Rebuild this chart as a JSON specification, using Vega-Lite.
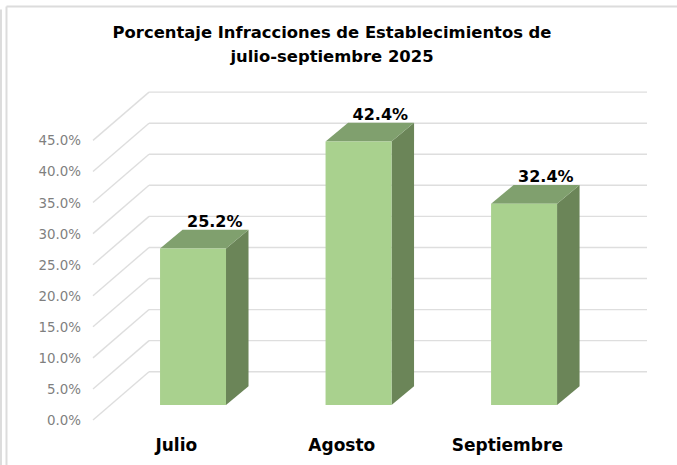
{
  "$schema": "https://vega.github.io/schema/vega-lite/v6.json",
  "width": 554,
  "height": 340,
  "autosize": "none",
  "padding": {"left": 93, "top": 80, "right": 30, "bottom": 45},
  "background": "white",
  "config": {"view": {"stroke": null}, "font": "DejaVu Sans"},
  "title": {"text": ["Porcentaje Infracciones de Establecimientos de", "julio-septiembre 2025"], "anchor": "middle", "frame": "group", "dx": -38, "offset": -59.5, "fontSize": 16.4, "fontWeight": "bold", "color": "black", "lineHeight": 24, "font": "DejaVu Sans"},
  "datasets": {
    "meses": [
      {"mes": "Julio", "pct": 0.252},
      {"mes": "Agosto", "pct": 0.424},
      {"mes": "Septiembre", "pct": 0.324}
    ],
    "marcas": [
      {"v": 0}, {"v": 0.05}, {"v": 0.1}, {"v": 0.15}, {"v": 0.2},
      {"v": 0.25}, {"v": 0.3}, {"v": 0.35}, {"v": 0.4}, {"v": 0.45}
    ]
  },
  "layer": [
    {
      "data": {"name": "marcas"},
      "transform": [{"calculate": "-0.5", "as": "x0"}, {"calculate": "-0.5+0.3384", "as": "x1"}, {"calculate": "datum.v+0.0777", "as": "vb"}],
      "mark": {"type": "rule", "color": "#dedede", "strokeWidth": 1.4},
      "encoding": {
        "x": {"field": "x0", "type": "quantitative",
          "scale": {"domain": [-0.5, 2.847], "nice": false, "zero": false},
          "axis": {"values": [0, 1, 2], "labelExpr": "['Julio','Agosto','Septiembre'][datum.value]", "title": null, "domain": false, "ticks": false, "grid": false, "labelFontSize": 17, "labelFontWeight": "bold", "labelColor": "black", "labelPadding": 17, "labelFont": "DejaVu Sans"}},
        "x2": {"field": "x1"},
        "y": {"field": "v", "type": "quantitative",
          "scale": {"domain": [0, 0.5472], "nice": false},
          "axis": null},
        "y2": {"field": "vb"}
      }
    },
    {
      "data": {"name": "marcas"},
      "transform": [{"calculate": "-0.5+0.3384", "as": "x1"}, {"calculate": "2.847", "as": "x2"}, {"calculate": "datum.v+0.0777", "as": "vb"}],
      "mark": {"type": "rule", "color": "#dedede", "strokeWidth": 1.4},
      "encoding": {
        "x": {"field": "x1", "type": "quantitative"},
        "x2": {"field": "x2"},
        "y": {"field": "vb", "type": "quantitative"}
      }
    },
    {
      "data": {"name": "marcas"},
      "mark": {"type": "text", "align": "right", "baseline": "middle", "dx": -12, "dy": 1, "fontSize": 13.4, "color": "#7f7f7f", "font": "DejaVu Sans"},
      "encoding": {
        "x": {"datum": -0.5, "type": "quantitative"},
        "y": {"field": "v", "type": "quantitative"},
        "text": {"field": "v", "type": "quantitative", "format": ".1%"}
      }
    },
    {
      "data": {"values": [{}]},
      "mark": {"type": "rule", "color": "#dcdcdc", "strokeWidth": 2},
      "encoding": {
        "x": {"datum": -1.0227, "type": "quantitative"},
        "x2": {"datum": 3.05},
        "y": {"datum": 0.6655, "type": "quantitative"}
      }
    },
    {
      "data": {"values": [{}]},
      "mark": {"type": "rule", "color": "#dcdcdc", "strokeWidth": 2},
      "encoding": {
        "x": {"datum": -1.0227, "type": "quantitative"},
        "y": {"datum": 0.6655, "type": "quantitative"},
        "y2": {"datum": -0.08}
      }
    },
    {
      "data": {"values": [{}]},
      "mark": {"type": "rule", "color": "#dcdcdc", "strokeWidth": 2},
      "encoding": {
        "x": {"datum": -1.056, "type": "quantitative"},
        "y": {"datum": 0.6607, "type": "quantitative"},
        "y2": {"datum": -0.08}
      }
    },
    {
      "data": {"name": "meses"},
      "transform": [
        {"calculate": "indexof(['Julio','Agosto','Septiembre'], datum.mes)", "as": "i"},
        {"calculate": "datum.i-0.095", "as": "l"},
        {"calculate": "datum.i+0.3036", "as": "r"},
        {"calculate": "datum.pct+0.0241", "as": "t"},
        {"calculate": "[datum.r, datum.r+0.136]", "as": "xs"},
        {"calculate": "[datum.t, datum.t+0.0301]", "as": "ys"},
        {"calculate": "[0.0241, 0.0542]", "as": "y2s"},
        {"flatten": ["xs", "ys", "y2s"]}
      ],
      "mark": {"type": "area", "orient": "vertical", "color": "#6b8558"},
      "encoding": {
        "x": {"field": "xs", "type": "quantitative"},
        "y": {"field": "ys", "type": "quantitative", "stack": null},
        "y2": {"field": "y2s"},
        "detail": {"field": "mes"}
      }
    },
    {
      "data": {"name": "meses"},
      "transform": [
        {"calculate": "indexof(['Julio','Agosto','Septiembre'], datum.mes)", "as": "i"},
        {"calculate": "datum.i-0.095", "as": "l"},
        {"calculate": "datum.i+0.3036", "as": "r"},
        {"calculate": "datum.pct+0.0241", "as": "t"},
        {"calculate": "[datum.l, datum.l+0.136, datum.r, datum.r+0.136]", "as": "xs"},
        {"calculate": "[datum.t, datum.t+0.0301, datum.t+0.0301, datum.t+0.0301]", "as": "ys"},
        {"calculate": "[datum.t, datum.t, datum.t, datum.t+0.0301]", "as": "y2s"},
        {"flatten": ["xs", "ys", "y2s"]}
      ],
      "mark": {"type": "area", "orient": "vertical", "color": "#80a06e"},
      "encoding": {
        "x": {"field": "xs", "type": "quantitative"},
        "y": {"field": "ys", "type": "quantitative", "stack": null},
        "y2": {"field": "y2s"},
        "detail": {"field": "mes"}
      }
    },
    {
      "data": {"name": "meses"},
      "transform": [
        {"calculate": "indexof(['Julio','Agosto','Septiembre'], datum.mes)", "as": "i"},
        {"calculate": "datum.i-0.095", "as": "l"},
        {"calculate": "datum.i+0.3036", "as": "r"},
        {"calculate": "datum.pct+0.0241", "as": "t"},
        {"calculate": "0.0241", "as": "b"}
      ],
      "mark": {"type": "rect", "color": "#a9d18e"},
      "encoding": {
        "x": {"field": "l", "type": "quantitative"},
        "x2": {"field": "r"},
        "y": {"field": "t", "type": "quantitative"},
        "y2": {"field": "b"}
      }
    },
    {
      "data": {"name": "meses"},
      "transform": [
        {"calculate": "indexof(['Julio','Agosto','Septiembre'], datum.mes)", "as": "i"},
        {"calculate": "datum.i+0.2357", "as": "xl"},
        {"calculate": "datum.pct+0.0542", "as": "yl"}
      ],
      "mark": {"type": "text", "dy": -8, "fontSize": 16, "fontWeight": "bold", "color": "black", "font": "DejaVu Sans"},
      "encoding": {
        "x": {"field": "xl", "type": "quantitative"},
        "y": {"field": "yl", "type": "quantitative"},
        "text": {"field": "pct", "type": "quantitative", "format": ".1%"}
      }
    }
  ]
}
